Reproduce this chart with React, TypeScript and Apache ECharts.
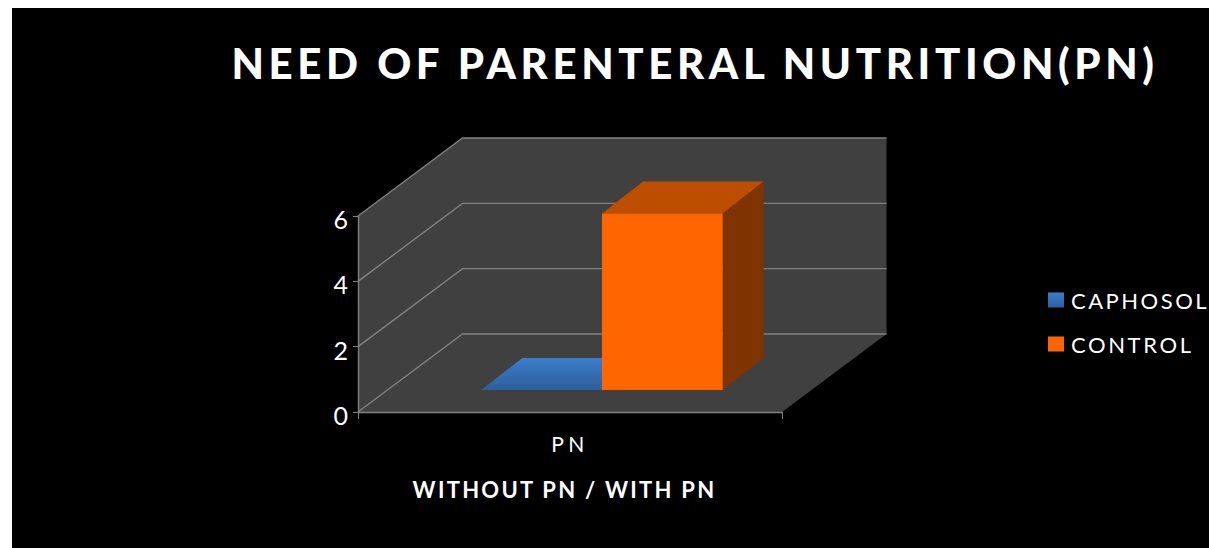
import React, { useEffect, useRef } from "react";
import * as echarts from "echarts";

const categories = ["PN"];
const seriesNames = ["CAPHOSOL", "CONTROL"];
const caphosolValues = [0];
const controlValues = [5.4];
const valueTicks = [0, 2, 4, 6];
const titleText = "NEED OF PARENTERAL NUTRITION(PN)";
const xAxisTitle = "WITHOUT PN / WITH PN";

const FONT = "Lato, 'Open Sans', sans-serif";
const DEPTH_X = 104.5;
const DEPTH_Y = 78;
const WALL = "#404040";
const GRID = "#808080";

const blueGrad = () =>
  new echarts.graphic.LinearGradient(0, 0, 0, 1, [
    { offset: 0, color: "#3C7CCB" },
    { offset: 1, color: "#2E5F9C" },
  ]);

function wallsItem(params: any) {
  const c = params.coordSys;
  const l = c.x, t = c.y, w = c.width, h = c.height, b = t + h;
  return {
    type: "polygon",
    silent: true,
    shape: {
      points: [
        [l, t],
        [l + DEPTH_X, t - DEPTH_Y],
        [l + w + DEPTH_X, t - DEPTH_Y],
        [l + w + DEPTH_X, b - DEPTH_Y],
        [l + w, b],
        [l, b],
      ],
    },
    style: { fill: WALL },
  };
}

function gridItem(params: any, api: any) {
  const c = params.coordSys;
  const y = api.coord([0, api.value(0)])[1];
  return {
    type: "polyline",
    silent: true,
    shape: { points: [[c.x, y], [c.x + DEPTH_X, y - DEPTH_Y], [c.x + c.width + DEPTH_X, y - DEPTH_Y]] },
    style: { fill: "none", stroke: GRID, lineWidth: 1.4 },
  };
}

function barItem(slot: number, front: any, top: any, side: any) {
  return (params: any, api: any) => {
    const c = params.coordSys;
    const p = api.coord([api.value(0), api.value(1)]);
    const base = api.coord([api.value(0), 0]);
    const bw = c.width * 0.2846;
    const x0 = p[0] + 32 + (slot - 1) * bw;
    const x1 = x0 + bw;
    const yt = p[1] - 22;
    const yb = base[1] - 22;
    const dx = 41, dy = 32;
    return {
      type: "group",
      children: [
        { type: "polygon", shape: { points: [[x0, yt], [x0 + dx, yt - dy], [x1 + dx, yt - dy], [x1, yt]] }, style: { fill: top } },
        { type: "polygon", shape: { points: [[x1, yt], [x1 + dx, yt - dy], [x1 + dx, yb - dy], [x1, yb]] }, style: { fill: side } },
        { type: "rect", shape: { x: x0, y: yt, width: bw, height: yb - yt }, style: { fill: front } },
      ],
    };
  };
}

const spacing: Record<string, string> = {
  [titleText]: "4.6px",
  [xAxisTitle]: "2.25px",
  PN: "4.5px",
  CAPHOSOL: "2.5px",
  CONTROL: "2.6px",
};

export default function App() {
  const ref = useRef<HTMLDivElement>(null);
  useEffect(() => {
    const chart = echarts.init(ref.current!, undefined, { renderer: "svg" });
    chart.setOption({
      animation: false,
      backgroundColor: "transparent",
      title: {
        text: titleText,
        left: 690,
        top: 37,
        textAlign: "center",
        textStyle: { color: "#fff", fontFamily: FONT, fontWeight: 900, fontSize: 42 },
      },
      legend: {
        orient: "vertical",
        left: 1048,
        top: 289,
        padding: 0,
        itemWidth: 16,
        itemHeight: 15,
        itemGap: 22,
        icon: "rect",
        data: seriesNames,
        textStyle: { color: "#fff", fontFamily: FONT, fontSize: 22, padding: [0, 0, 0, 2] },
      },
      grid: { left: 358, top: 216, width: 424, height: 196 },
      xAxis: {
        type: "category",
        data: categories,
        name: xAxisTitle,
        nameLocation: "middle",
        nameGap: 66,
        nameTextStyle: { color: "#fff", fontFamily: FONT, fontWeight: "bold", fontSize: 22, padding: [0, 11, 0, 0] },
        axisLine: { lineStyle: { color: GRID, width: 1.4 } },
        axisTick: { show: true, length: 7, alignWithLabel: false, lineStyle: { color: GRID } },
        axisLabel: { color: "#fff", fontFamily: FONT, fontSize: 21, margin: 21 },
        z: 5,
      },
      yAxis: {
        type: "value",
        min: 0,
        max: 6,
        interval: 2,
        axisLine: { show: true, lineStyle: { color: GRID, width: 1.4 } },
        axisTick: { show: true, length: 5, lineStyle: { color: GRID } },
        axisLabel: { color: "#fff", fontFamily: FONT, fontSize: 25, margin: 10, verticalAlign: "top", lineHeight: 6 },
        splitLine: { show: false },
        z: 5,
      },
      series: [
        { type: "custom", name: "walls", silent: true, clip: false, renderItem: wallsItem, data: [0], encode: { x: -1, y: -1 }, z: 1 },
        { type: "custom", name: "grid", silent: true, clip: false, renderItem: gridItem, data: valueTicks.map((v) => [v]), encode: { y: 0 }, z: 2 },
        {
          type: "custom",
          name: seriesNames[0],
          clip: false,
          itemStyle: { color: blueGrad() },
          renderItem: barItem(0, blueGrad(), blueGrad(), "#1f4470"),
          data: categories.map((c, i) => [i, caphosolValues[i]]),
          encode: { x: 0, y: 1 },
          z: 3,
        },
        {
          type: "custom",
          name: seriesNames[1],
          clip: false,
          itemStyle: { color: "#FF6600" },
          renderItem: barItem(1, "#FF6600", "#BD4E00", "#7F3300"),
          data: categories.map((c, i) => [i, controlValues[i]]),
          encode: { x: 0, y: 1 },
          z: 4,
        },
      ],
    });
    ref.current!.querySelectorAll("text").forEach((t) => {
      const s = spacing[(t.textContent || "").trim()];
      if (s) (t as unknown as HTMLElement).style.letterSpacing = s;
    });
    return () => chart.dispose();
  }, []);
  return (
    <div style={{ position: "fixed", left: 0, top: 0, width: 1209, height: 548, background: "#fff", overflow: "hidden" }}>
      <div style={{ position: "absolute", left: 12, top: 8, right: 0, bottom: 0, background: "#000" }} />
      <div ref={ref} style={{ position: "absolute", left: 0, top: 0, width: 1209, height: 548 }} />
    </div>
  );
}
